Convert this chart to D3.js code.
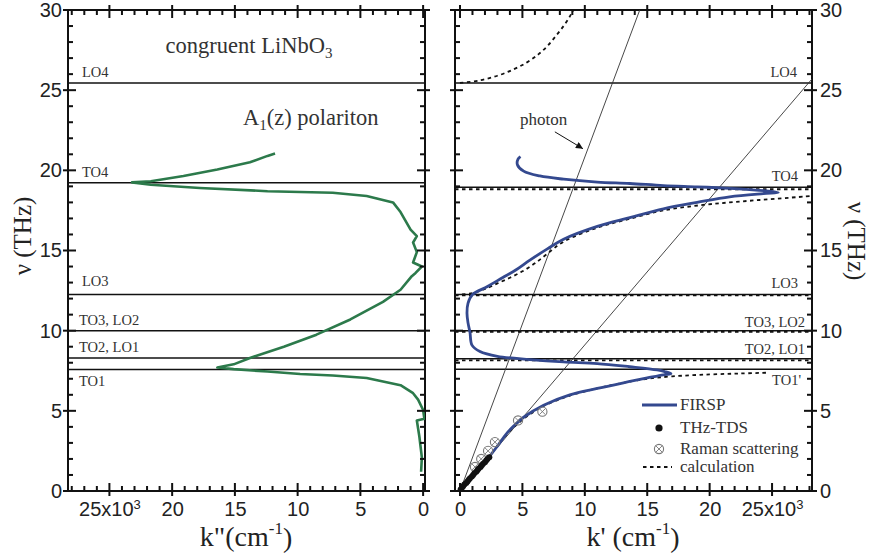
<!DOCTYPE html>
<html>
<head>
<meta charset="utf-8">
<script src="https://cdn.jsdelivr.net/npm/d3@7"></script>
<style>
  html, body { margin: 0; padding: 0; background: #fff; }
  svg { display: block; }
</style>
</head>
<body>
<svg id="chart" width="871" height="554"></svg>
<script>
// ---- Data: A1(z) phonon-polariton dispersion of congruent LiNbO3 ----

// Imaginary part k'' (x10^3 cm^-1) vs frequency (THz), FIRSP
const kImag = [
  [0.16,1.2],[0.1,2.1],[0.3,3.4],[0.5,4.4],[-0.1,4.5],[0.0,5.05],[0.4,5.7],[0.8,6.1],
  [1.8,6.6],[4.5,7.05],[7.2,7.2],[9.8,7.3],[12.4,7.45],[15.1,7.6],[16.4,7.7],[15.1,7.9],
  [13.8,8.3],[11.1,9.0],[8.5,9.75],[5.8,10.7],[3.2,11.8],[1.8,12.55],[0.9,13.4],[0.6,13.6],
  [0.1,14.0],[0.8,14.25],[0.5,14.9],[0.8,15.5],[0.5,15.9],[1.0,16.3],[1.8,17.4],[2.4,18.0],
  [4.5,18.4],[7.2,18.6],[12.4,18.7],[17.8,18.9],[21.7,19.1],[23.2,19.25],[21.7,19.32],
  [19.1,19.65],[16.4,20.05],[13.8,20.5],[12.4,20.9],[11.8,21.05]
];

// Real part k' (x10^3 cm^-1) vs frequency (THz), FIRSP
const kRealFirsp = [
  [0.0,0.05],[1.0,0.95],[2.3,2.1],[3.0,2.8],[3.7,3.55],[4.3,4.05],[5.1,4.6],[6.7,5.35],
  [8.8,6.0],[11.0,6.4],[13.1,6.75],[15.0,7.05],[16.3,7.25],[16.9,7.32],[16.4,7.45],
  [15.8,7.55],[13.6,7.75],[11.0,7.95],[8.3,8.05],[5.6,8.2],[3.0,8.4],[1.6,8.7],[0.96,9.1],
  [0.8,9.9],[0.64,10.5],[0.56,11.1],[0.64,11.7],[1.0,12.25],[2.2,12.75],[3.4,13.3],
  [4.5,13.8],[5.6,14.4],[7.0,15.1],[8.3,15.7],[11.0,16.5],[13.6,17.05],[16.3,17.6],
  [19.0,18.0],[21.6,18.35],[24.3,18.55],[25.5,18.62],[24.5,18.72],[23.2,18.8],[21.6,18.88],
  [19.0,18.97],[16.3,19.05],[13.6,19.18],[11.0,19.27],[8.3,19.45],[6.4,19.65],[5.1,19.95],
  [4.6,20.35],[4.65,20.7],[4.85,20.85]
];

// THz time-domain spectroscopy points (k', THz)
const thzTds = [
  [0.05,0.1],[0.15,0.2],[0.25,0.3],[0.35,0.4],[0.5,0.5],[0.6,0.6],[0.7,0.7],[0.8,0.8],
  [0.95,0.9],[1.05,1.0],[1.15,1.1],[1.3,1.2],[1.4,1.3],[1.5,1.4],[1.65,1.5],[1.75,1.6],
  [1.85,1.7],[2.0,1.8],[2.1,1.9],[2.2,2.0],[2.35,2.1]
];

// Raman scattering points (k', THz)
const raman = [[1.2,1.5],[1.7,2.0],[2.25,2.5],[2.8,3.05],[4.65,4.4],[6.6,4.95]];

// Calculated dispersion branches (k', THz)
const calcUpper = [[0.0,25.45],[1.5,25.6],[3.0,25.9],[4.3,26.3],[5.4,26.75],[6.3,27.25],
  [7.0,27.75],[7.7,28.4],[8.3,29.0],[8.8,29.6],[9.1,30.0]];
const calcMid = [[-0.4,12.22],[1.0,12.35],[2.0,12.6],[3.0,12.95],[4.0,13.3],[5.0,13.7],
  [6.0,14.2],[7.0,14.8],[8.3,15.55],[11.0,16.42],[13.6,16.98],[16.3,17.5],[19.2,17.82],
  [21.6,18.0],[24.0,18.15],[28.2,18.4]];
const calcLow = [[0.0,0.0],[1.0,0.95],[2.3,2.1],[3.7,3.5],[5.1,4.5],[6.7,5.3],[8.8,5.95],
  [11.0,6.4],[13.1,6.75],[15.0,7.0],[17.0,7.15],[20.0,7.27],[22.5,7.33],[24.7,7.38]];
// Calculated flat branches near the phonon lines (THz)
const calcFlat = [18.82, 12.2, 9.92, 8.15];

// Photon light lines (k', THz)
const photonA = [[0,0],[14.4,30]];
const photonB = [[0,0],[28.2,25.7]];

// Phonon mode frequencies (THz)
const modeLabels = ["LO4","TO4","LO3","TO3, LO2","TO2, LO1","TO1"];
const modesLeft  = [25.45, 19.22, 12.25, 10.0, 8.3, 7.58];
const modesRight = [25.45, 18.95, 12.25, 10.0, 8.25, 7.6];

// Axis ticks
const yTicks = [0,5,10,15,20,25,30];
const kTicks = [0,5,10,15,20,25];

// ---- Layout ----
const fSerif = "'Liberation Serif','Times New Roman',serif";
const fSans = "'Liberation Sans',Arial,sans-serif";
const svg = d3.select("#chart");
svg.append("rect").attr("width",871).attr("height",554).attr("fill","#fff");

const yTop = 10, yBot = 491;
const PL = {x0:68, x1:425};
const PR = {x0:455, x1:812};

const y = d3.scaleLinear().domain([0,30]).range([yBot, yTop]);
const xL = d3.scaleLinear().domain([28.3,-0.15]).range([PL.x0, PL.x1]);
const xR = d3.scaleLinear().domain([-0.4,28.2]).range([PR.x0, PR.x1]);

const minorY = d3.range(0,31).filter(v => v % 5 !== 0);
const minorK = d3.range(0,29).filter(v => v % 5 !== 0);

// Tick labels from d3 axes
function labels(axisFn, scale, values, pos, pad) {
  const a = axisFn(scale).tickValues(values).tickSize(0).tickPadding(pad).tickFormat(d3.format("d"));
  const g = svg.append("g").attr("transform", pos).call(a);
  g.select(".domain").remove();
  g.selectAll(".tick line").remove();
  g.selectAll("text").attr("fill","#222").attr("font-family",fSans).attr("font-size",20);
  return g;
}

function sup25(g) {
  g.selectAll(".tick text").filter(d => d === 25).each(function() {
    const t = d3.select(this);
    t.text("25x10");
    t.append("tspan").attr("dy","-0.55em").attr("font-size",13).text("3");
  });
}

// Tick marks as small filled bars: majors cross the frame, minors point inward
function tickBars(P, x) {
  const g = svg.append("g").attr("fill","#111");
  const vy = yTicks.map(v => ({v, m:true})).concat(minorY.map(v => ({v, m:false})));
  const vx = kTicks.map(v => ({v, m:true})).concat(minorK.map(v => ({v, m:false})));
  const inner = d => d.m ? 8 : 5, outer = d => d.m ? 5 : 0, w = 2;
  // left edge (inward = +x), right edge (inward = -x)
  g.selectAll("rect.tl").data(vy).join("rect").attr("class","tl")
    .attr("x", d => P.x0 - outer(d)).attr("y", d => y(d.v) - w/2)
    .attr("width", d => outer(d) + inner(d)).attr("height", w);
  g.selectAll("rect.tr").data(vy).join("rect").attr("class","tr")
    .attr("x", d => P.x1 - inner(d)).attr("y", d => y(d.v) - w/2)
    .attr("width", d => outer(d) + inner(d)).attr("height", w);
  // bottom edge (inward = -y), top edge (inward = +y)
  g.selectAll("rect.tb").data(vx).join("rect").attr("class","tb")
    .attr("x", d => x(d.v) - w/2).attr("y", d => yBot - inner(d))
    .attr("width", w).attr("height", d => outer(d) + inner(d));
  g.selectAll("rect.tt").data(vx).join("rect").attr("class","tt")
    .attr("x", d => x(d.v) - w/2).attr("y", d => yTop - outer(d))
    .attr("width", w).attr("height", d => outer(d) + inner(d));
}

// Frames and labels for both panels
[[PL,xL],[PR,xR]].forEach(([P, x], i) => {
  if (i === 0) labels(d3.axisLeft, y, yTicks, `translate(${P.x0},0)`, 6);
  else labels(d3.axisRight, y, yTicks, `translate(${P.x1},0)`, 8);
  sup25(labels(d3.axisBottom, x, kTicks, `translate(0,${yBot})`, 11));
  svg.append("rect").attr("x",P.x0).attr("y",yTop).attr("width",P.x1-P.x0)
    .attr("height",yBot-yTop).attr("fill","none").attr("stroke","#111").attr("stroke-width",2);
  svg.append("clipPath").attr("id","clip"+i).append("rect")
    .attr("x",P.x0).attr("y",yTop).attr("width",P.x1-P.x0).attr("height",yBot-yTop);
});

const gL = svg.append("g").attr("clip-path","url(#clip0)");
const gR = svg.append("g").attr("clip-path","url(#clip1)");

// ---- Left panel: k'' ----
gL.selectAll("line.mode").data(modesLeft).join("line").attr("class","mode")
  .attr("x1",PL.x0).attr("x2",PL.x1).attr("y1",d=>y(d)).attr("y2",d=>y(d))
  .attr("stroke","#111").attr("stroke-width",1.5);

const lineL = d3.line().x(d=>xL(d[0])).y(d=>y(d[1]));
gL.append("path").datum(kImag).attr("d",lineL).attr("fill","none")
  .attr("stroke","#2c7a4b").attr("stroke-width",2.6).attr("stroke-linejoin","round");

// mode labels, left panel
const leftLabelPos = [
  {x:82, dy:-6}, {x:82, dy:-6}, {x:82, dy:-9}, {x:79, dy:-6}, {x:79, dy:-6}, {x:79, dy:17}
];
modeLabels.forEach((t,i) => {
  svg.append("text").attr("x",leftLabelPos[i].x).attr("y",y(modesLeft[i])+leftLabelPos[i].dy)
    .attr("font-family",fSerif).attr("font-size",14.5).attr("fill","#333").text(t);
});

// titles in left panel
const t1 = svg.append("text").attr("x",249).attr("y",53).attr("text-anchor","middle")
  .attr("font-family",fSerif).attr("font-size",22.5).attr("fill","#333");
t1.append("tspan").text("congruent LiNbO");
t1.append("tspan").attr("font-size",15).attr("dy","0.3em").text("3");

const t2 = svg.append("text").attr("x",243).attr("y",125)
  .attr("font-family",fSerif).attr("font-size",22.5).attr("fill","#333");
t2.append("tspan").text("A");
t2.append("tspan").attr("font-size",15).attr("dy","0.3em").text("1");
t2.append("tspan").attr("dy","-0.2em").text("(z) polariton");

// ---- Right panel: k' ----
gR.selectAll("line.mode").data(modesRight).join("line").attr("class","mode")
  .attr("x1",PR.x0).attr("x2",PR.x1).attr("y1",d=>y(d)).attr("y2",d=>y(d))
  .attr("stroke","#111").attr("stroke-width",1.5);

const lineR = d3.line().x(d=>xR(d[0])).y(d=>y(d[1]));
const smoothR = d3.line().x(d=>xR(d[0])).y(d=>y(d[1])).curve(d3.curveCatmullRom.alpha(0.5));

// photon lines
[photonA, photonB].forEach(p => {
  gR.append("path").datum(p).attr("d",lineR).attr("fill","none")
    .attr("stroke","#333").attr("stroke-width",0.9);
});

// calculation (dashed)
const dash = "3.5,3.5";
gR.selectAll("line.flat").data(calcFlat).join("line").attr("class","flat")
  .attr("x1",PR.x0).attr("x2",PR.x1).attr("y1",d=>y(d)).attr("y2",d=>y(d))
  .attr("stroke","#111").attr("stroke-width",1.8).attr("stroke-dasharray",dash);
[calcUpper, calcMid, calcLow].forEach(c => {
  gR.append("path").datum(c).attr("d",smoothR).attr("fill","none")
    .attr("stroke","#111").attr("stroke-width",1.8).attr("stroke-dasharray",dash);
});

// FIRSP
gR.append("path").datum(kRealFirsp).attr("d",smoothR).attr("fill","none")
  .attr("stroke","#34498f").attr("stroke-width",2.8).attr("stroke-linejoin","round");

// Raman scattering markers
function ramanMark(g, cx, cy) {
  const r = 4.6, s = r*0.68;
  g.append("circle").attr("cx",cx).attr("cy",cy).attr("r",r)
    .attr("fill","none").attr("stroke","#777").attr("stroke-width",1.1);
  g.append("line").attr("x1",cx-s).attr("y1",cy-s).attr("x2",cx+s).attr("y2",cy+s)
    .attr("stroke","#777").attr("stroke-width",0.9);
  g.append("line").attr("x1",cx-s).attr("y1",cy+s).attr("x2",cx+s).attr("y2",cy-s)
    .attr("stroke","#777").attr("stroke-width",0.9);
}
raman.forEach(d => ramanMark(gR, xR(d[0]), y(d[1])));

// THz-TDS points
gR.selectAll("circle.tds").data(thzTds).join("circle").attr("class","tds")
  .attr("cx",d=>xR(d[0])).attr("cy",d=>y(d[1])).attr("r",3).attr("fill","#111");

// mode labels, right panel (right-aligned)
const rightLabels = ["LO4","TO4","LO3","TO3, LO2","TO2, LO1","TO1'"];
const rightLabelPos = [
  {x:797, dy:-6}, {x:798, dy:-6}, {x:798, dy:-7}, {x:805, dy:-4}, {x:805, dy:-5}, {x:801, dy:16}
];
rightLabels.forEach((t,i) => {
  svg.append("text").attr("x",rightLabelPos[i].x).attr("y",y(modesRight[i])+rightLabelPos[i].dy)
    .attr("text-anchor","end").attr("font-family",fSerif).attr("font-size",14.5)
    .attr("fill","#333").text(t);
});

// photon annotation
svg.append("text").attr("x",xR(4.8)).attr("y",y(22.85))
  .attr("font-family",fSerif).attr("font-size",17).attr("fill","#333").text("photon");
svg.append("defs").append("marker").attr("id","arrow").attr("viewBox","0 0 10 10")
  .attr("refX",10).attr("refY",5).attr("markerWidth",9).attr("markerHeight",7)
  .attr("markerUnits","userSpaceOnUse").attr("orient","auto")
  .append("path").attr("d","M0,0 L10,5 L0,10 Z").attr("fill","#111");
svg.append("line").attr("x1",xR(7.6)).attr("y1",y(22.4)).attr("x2",xR(9.85)).attr("y2",y(21.35))
  .attr("stroke","#111").attr("stroke-width",1).attr("marker-end","url(#arrow)");

// legend
const lg = svg.append("g").attr("font-family",fSerif).attr("font-size",17).attr("fill","#333");
lg.append("line").attr("x1",642).attr("x2",677).attr("y1",405).attr("y2",405)
  .attr("stroke","#34498f").attr("stroke-width",2.8);
lg.append("text").attr("x",680).attr("y",410).text("FIRSP");
lg.append("circle").attr("cx",659).attr("cy",428).attr("r",3.6).attr("fill","#111");
lg.append("text").attr("x",680).attr("y",433).text("THz-TDS");
ramanMark(lg, 659, 449);
lg.append("text").attr("x",680).attr("y",454).text("Raman scattering");
lg.append("line").attr("x1",643).attr("x2",672).attr("y1",467).attr("y2",467)
  .attr("stroke","#111").attr("stroke-width",1.8).attr("stroke-dasharray",dash);
lg.append("text").attr("x",680).attr("y",472).text("calculation");

// ---- Axis titles ----
function kTitle(x, txt) {
  const t = svg.append("text").attr("x",x).attr("y",546).attr("text-anchor","middle")
    .attr("font-family",fSerif).attr("font-size",28).attr("fill","#222");
  t.append("tspan").text(txt);
  t.append("tspan").attr("font-size",17).attr("dy","-0.7em").text("-1");
  t.append("tspan").attr("dy","0.45em").text(")");
}
kTitle(246, "k\"(cm");
kTitle(633, "k' (cm");

svg.append("text").attr("transform","translate(31,236) rotate(-90)").attr("text-anchor","middle")
  .attr("font-family",fSerif).attr("font-size",25).attr("fill","#222").text("ν (THz)");
svg.append("text").attr("transform","translate(848,241) rotate(90)").attr("text-anchor","middle")
  .attr("font-family",fSerif).attr("font-size",25).attr("fill","#222").text("ν (THz)");

// tick marks on top of everything
tickBars(PL, xL);
tickBars(PR, xR);
</script>
</body>
</html>
